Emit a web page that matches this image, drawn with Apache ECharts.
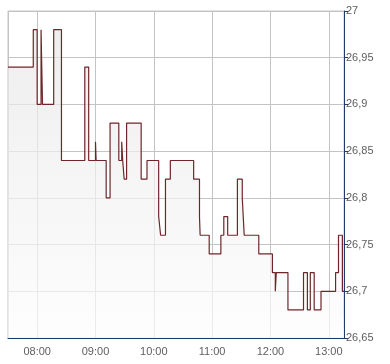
<!DOCTYPE html>
<html>
<head>
<meta charset="utf-8">
<script src="https://cdn.jsdelivr.net/npm/echarts@6/dist/echarts.min.js"></script>
<style>html,body{margin:0;padding:0;background:#fff}#c{width:390px;height:364px}</style>
</head>
<body>
<div id="c"></div>
<script>
var times = ['07:30','07:56','08:00','08:04','08:05:30','08:17','08:25','08:49','08:53','09:00','09:00:40','09:11','09:15','09:24','09:27','09:28','09:29:30','09:32','09:47','09:53','10:05','10:07','10:12','10:17','10:41','10:47','10:47:40','10:57','11:09','11:12','11:16','11:26','11:31','11:33','11:48','12:02','12:05','12:06','12:18','12:34','12:38','12:41','12:45','12:52','13:07','13:10','13:14','13:15:40'];
var prices = [26.94,26.98,26.90,26.98,26.90,26.98,26.84,26.94,26.84,26.86,26.84,26.80,26.88,26.84,26.86,26.84,26.82,26.88,26.82,26.84,26.78,26.76,26.82,26.84,26.82,26.78,26.76,26.74,26.76,26.78,26.76,26.82,26.80,26.76,26.74,26.72,26.70,26.72,26.68,26.72,26.68,26.72,26.68,26.70,26.72,26.76,26.70,26.70];
var xStart = '07:30', xEnd = '13:15:40';
var yMin = 26.65, yMax = 27, yStep = 0.05;

function ts(s){var p=s.split(':').map(Number);return Date.UTC(2024,0,2,p[0],p[1],p[2]||0);}
function pad(n){return (n<10?'0':'')+n;}
var data = times.map(function(t,i){return [ts(t), prices[i]];});

var chart = echarts.init(document.getElementById('c'), null, {renderer:'canvas'});
var font = 'Liberation Sans, Arial, sans-serif';
chart.setOption({
  animation:false,
  useUTC:true,
  grid:{left:8,right:46,top:11,bottom:26,show:true,borderColor:'#c4c4c4',borderWidth:1,backgroundColor:'transparent'},
  xAxis:{
    type:'time', min:ts(xStart), max:ts(xEnd),
    minInterval:3600000, maxInterval:3600000,
    axisLine:{show:true,lineStyle:{color:'#1e3a6e',width:1}},
    axisTick:{show:false},
    splitLine:{show:true,lineStyle:{color:'#c4c4c4',width:1}},
    axisLabel:{color:'#5e5e5e',fontFamily:font,fontSize:11,margin:8,showMinLabel:false,showMaxLabel:false,
      formatter:function(v){var d=new Date(v);return pad(d.getUTCHours())+':'+pad(d.getUTCMinutes());}}
  },
  yAxis:{
    type:'value', position:'right', min:yMin, max:yMax, interval:yStep,
    axisLine:{show:true,lineStyle:{color:'#1e3a6e',width:1}},
    axisTick:{show:true,length:4,lineStyle:{color:'#1e3a6e'}},
    splitLine:{show:true,lineStyle:{color:'#c4c4c4',width:1}},
    axisLabel:{color:'#5e5e5e',fontFamily:font,fontSize:11,margin:2,
      formatter:function(v){return String(+v.toFixed(2)).replace('.',',');}}
  },
  series:[{
    type:'line', step:'end', data:data, showSymbol:false, symbol:'none',
    lineStyle:{color:'#6e262b',width:1.2},
    areaStyle:{origin:'start',color:new echarts.graphic.LinearGradient(0,0,0,1,[{offset:0,color:'#e6e6e6'},{offset:1,color:'#fcfcfc'}])}
  }]
});
</script>
</body>
</html>
